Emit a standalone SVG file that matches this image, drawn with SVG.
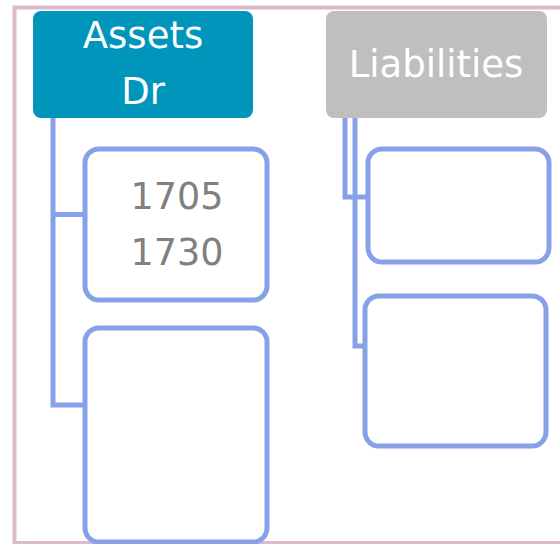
<svg xmlns="http://www.w3.org/2000/svg" width="560" height="544" viewBox="0 0 560 544">
  <style>
    .frame { fill: none; stroke: #dcbacb; stroke-width: 4; }
    .head-text { font-family: "DejaVu Sans", Verdana, sans-serif; font-size: 37px; fill: #ffffff; text-anchor: middle; }
    .item { fill: #ffffff; stroke: #87a1e8; stroke-width: 5; }
    .item-text { font-family: "DejaVu Sans", Verdana, sans-serif; font-size: 36.5px; fill: #808080; text-anchor: middle; }
    .link { fill: none; stroke: #87a1e8; stroke-width: 5; stroke-linejoin: miter; stroke-linecap: butt; }
  </style>

  <rect width="560" height="544" fill="#ffffff"/>
  <!-- outer frame -->
  <rect class="frame" x="14.5" y="7.5" width="600" height="535.5"/>

  <!-- connectors -->
  <g id="connectors">
    <path class="link" d="M53 118 V405 H85"/>
    <path class="link" d="M53 214.5 H85"/>
    <path class="link" d="M345 118 V197 H368"/>
    <path class="link" d="M355 118 V346 H372"/>
  </g>

  <!-- column headers -->
  <g id="assets">
    <rect x="33" y="11" width="220" height="107" rx="8" fill="#0095ba"/>
    <text class="head-text" x="143" y="48">Assets</text>
    <text class="head-text" x="143" y="104">Dr</text>
  </g>
  <g id="liabilities">
    <rect x="326" y="11" width="221" height="107" rx="8" fill="#bfbfbf"/>
    <text class="head-text" x="436" y="77">Liabilities</text>
  </g>

  <!-- asset items -->
  <g id="asset-item-1">
    <rect class="item" x="85" y="149" width="182" height="151" rx="14"/>
    <text class="item-text" x="177" y="209">1705</text>
    <text class="item-text" x="177" y="265">1730</text>
  </g>
  <g id="asset-item-2">
    <rect class="item" x="85" y="328" width="182" height="214" rx="14"/>
  </g>

  <!-- liability items -->
  <g id="liability-item-1">
    <rect class="item" x="368" y="149" width="181" height="113" rx="14"/>
  </g>
  <g id="liability-item-2">
    <rect class="item" x="365" y="296" width="181" height="150" rx="14"/>
  </g>
</svg>
